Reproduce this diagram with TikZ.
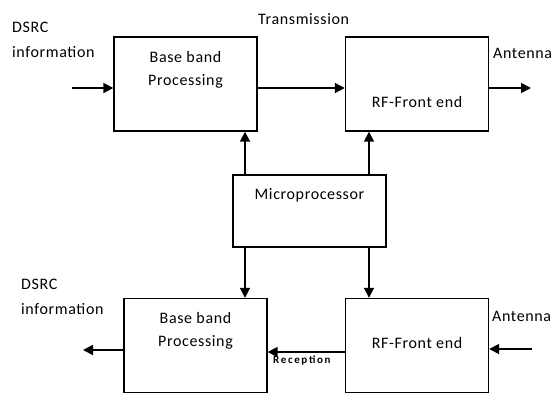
\documentclass[tikz,border=0pt]{standalone}
\usepackage{fontspec}
\setmainfont{Carlito}[LetterSpace=4]
\usetikzlibrary{positioning,arrows.meta}

\begin{document}
\begin{tikzpicture}[x=1pt, y=-1pt, >={Triangle[length=10pt, width=10pt]},
    every node/.style={font=\fontsize{16}{17}\selectfont},
    blk/.style={draw, line width=1.4pt, minimum width=143pt, minimum height=94pt, inner sep=0pt},
    arr/.style={->, line width=1.8pt}]
	\clip (0,0) rectangle (555,392);
	% boxes
	\node[blk] (bbt) at (185.5,84) {};
	\node[blk] (rft) at (417,84) {};
	\node[blk, minimum width=153pt, minimum height=72pt] (mp) at (309.5,211) {};
	\node[blk] (bbr) at (195.5,345.5) {};
	\node[blk] (rfr) at (417,345.5) {};
	% texts
	\node[align=center, anchor=base] at (185.5,85) {Base band\\[6pt]Processing};
	\node[anchor=base] at (417,107) {RF-Front end};
	\node[anchor=base] at (309.5,199) {Microprocessor};
	\node[align=center, anchor=base] at (195.5,346) {Base band\\[6pt]Processing};
	\node[anchor=base] at (417,348) {RF-Front end};
	\node[align=left, anchor=base west, inner sep=0pt] at (12,57) {DSRC\\[8pt]information};
	\node[align=left, anchor=base west, inner sep=0pt] at (21,314) {DSRC\\[8pt]information};
	\node[anchor=base west, inner sep=0pt] at (258,24) {Transmission};
	\node[anchor=base west, inner sep=0pt] at (493,58) {Antenna};
	\node[anchor=base west, inner sep=0pt] at (492,321) {Antenna};
	\node[anchor=base west, inner sep=0pt, font=\fontsize{11}{12}\selectfont\bfseries\addfontfeatures{LetterSpace=15}] at (273,363) {Reception};
	% connectors
	\coordinate (in1) at (72,88);
	\coordinate (out1) at (531,88);
	\coordinate (in2) at (532,349);
	\coordinate (out2) at (83,350);
	\coordinate (rx) at (0,352);
	\coordinate (c1) at (245,0);
	\coordinate (c2) at (369,0);
	\draw[arr] (in1) -- (in1 -| bbt.west);
	\draw[arr] (bbt.east |- in1) -- (rft.west |- in1);
	\draw[arr] (rft.east |- out1) -- (out1);
	\draw[arr] (mp.north -| c1) -- (bbt.south -| c1);
	\draw[arr] (mp.north -| c2) -- (rft.south -| c2);
	\draw[arr] (mp.south -| c1) -- (bbr.north -| c1);
	\draw[arr] (mp.south -| c2) -- (rfr.north -| c2);
	\draw[arr] (in2) -- (in2 -| rfr.east);
	\draw[arr] (rfr.west |- rx) -- (bbr.east |- rx);
	\draw[arr] (bbr.west |- out2) -- (out2);
\end{tikzpicture}
\end{document}
